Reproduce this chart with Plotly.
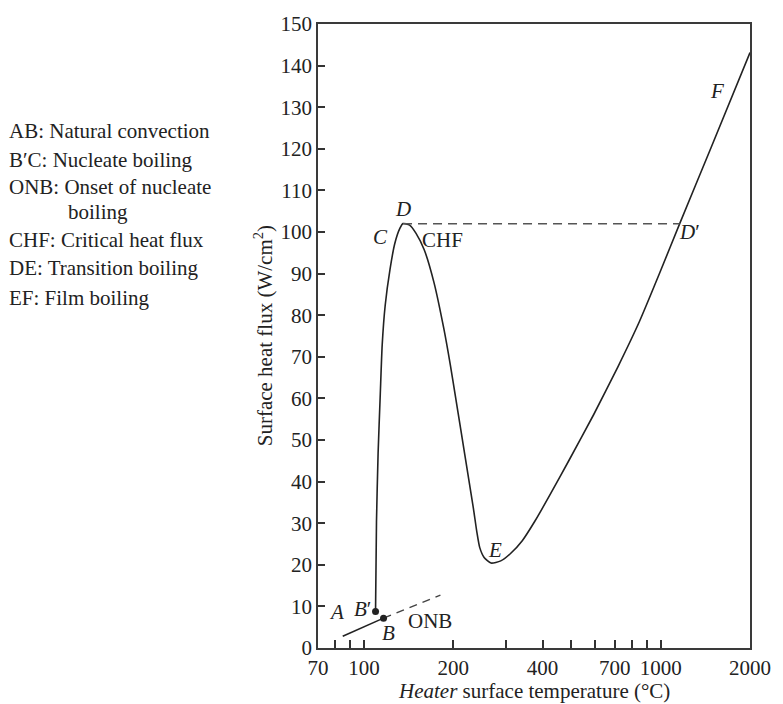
import math
import plotly.graph_objects as go

# ---- data ----
# main boiling curve: B' -> C -> D (CHF) -> E -> D' -> F
curve_T = [109.4, 110.2, 111.6, 113.5, 115.2, 117.9, 122.4, 127.1, 132.1, 135.4,
           142.5, 149.8, 159.6, 172.2, 185.8, 195.4, 202.8, 212.2, 225.6, 233.8,
           240.1, 245.6, 254.1, 268.0, 289.1, 311.9, 341.6, 377.0, 422.4, 491.6,
           594.2, 718.3, 848.7, 995.3, 1158.2, 1476.7, 2000.0]
curve_q = [8.75, 30.28, 46.84, 61.04, 72.86, 82.33, 91.01, 97.30, 100.85, 102.03,
           101.66, 99.67, 95.74, 87.84, 76.81, 68.13, 61.04, 52.29, 40.46, 33.59,
           27.92, 24.13, 21.77, 20.42, 20.94, 22.71, 25.79, 30.52, 36.67, 45.19,
           56.07, 67.66, 78.54, 90.37, 101.96, 120.18, 143.13]

# natural convection A -> B (solid), ONB extension (dashed)
ab_T = [84.8, 116.4]
ab_q = [2.84, 7.18]
onb_T = [116.4, 181.0]
onb_q = [7.18, 12.7]

# CHF horizontal D -> D'
chf_T = [135.4, 1158.2]
chf_q = [102.0, 102.0]

# points B' and B
pts_T = [109.4, 116.4]
pts_q = [8.75, 7.18]

x_tickvals = [70, 80, 90, 100, 200, 300, 400, 500, 600, 700, 800, 900, 1000, 2000]
x_ticktext = ["70", "", "", "100", "200", "", "400", "", "", "700", "", "", "1000", "2000"]
y_tickvals = list(range(0, 151, 10))

# point labels: (text, T, q)
point_labels = [
    ("<i>A</i>", 81.1, 8.6),
    ("<i>B</i>′", 98.7, 9.4),
    ("<i>B</i>", 120.9, 3.6),
    ("ONB", 167.1, 6.6),
    ("<i>C</i>", 113.5, 98.9),
    ("<i>D</i>", 135.4, 105.6),
    ("CHF", 183.4, 98.1),
    ("<i>E</i>", 276.2, 23.6),
    ("<i>D</i>′", 1252.0, 100.1),
    ("<i>F</i>", 1545.0, 134.0),
]

legend_lines = [
    ("AB: Natural convection", 0, 123),
    ("B′C: Nucleate boiling", 0, 152),
    ("ONB: Onset of nucleate", 0, 180),
    ("boiling", 60, 205),
    ("CHF: Critical heat flux", 0, 233),
    ("DE: Transition boiling", 0, 262),
    ("EF: Film boiling", 0, 292),
]

FONT = "Liberation Serif, Times New Roman, serif"
INK = "#222222"
FS = 21

# ---- layout geometry ----
W, H = 783, 704
ML, MR, MT, MB = 318, 23, 14, 56
PW = W - ML - MR
PH = H - MT - MB

fig = go.Figure()

fig.add_trace(go.Scatter(x=curve_T, y=curve_q, mode="lines",
                         line=dict(color=INK, width=1.6, shape="spline", smoothing=0.6),
                         hoverinfo="skip", showlegend=False))
fig.add_trace(go.Scatter(x=ab_T, y=ab_q, mode="lines",
                         line=dict(color=INK, width=1.6),
                         hoverinfo="skip", showlegend=False))
fig.add_trace(go.Scatter(x=onb_T, y=onb_q, mode="lines",
                         line=dict(color="#444444", width=1.5, dash="8px,6px"),
                         hoverinfo="skip", showlegend=False))
fig.add_trace(go.Scatter(x=chf_T, y=chf_q, mode="lines",
                         line=dict(color="#555555", width=1.5, dash="9px,6px"),
                         hoverinfo="skip", showlegend=False))
fig.add_trace(go.Scatter(x=pts_T, y=pts_q, mode="markers",
                         marker=dict(color=INK, size=7),
                         hoverinfo="skip", showlegend=False))

annotations = []
for txt, t, q in point_labels:
    annotations.append(dict(x=math.log10(t), y=q, xref="x", yref="y", text=txt,
                            showarrow=False, xanchor="center", yanchor="middle",
                            font=dict(family=FONT, size=FS, color=INK)))
for txt, px, py in legend_lines:
    annotations.append(dict(x=(px - ML) / PW, y=(H - MB - py) / PH, xref="paper", yref="paper",
                            text=txt, showarrow=False, xanchor="left", yanchor="middle",
                            font=dict(family=FONT, size=FS, color=INK)))
# axis titles
annotations.append(dict(x=(262 - ML) / PW, y=0.5, xref="paper", yref="paper",
                        text="Surface heat flux (W/cm<sup>2</sup>)", textangle=-90,
                        showarrow=False, xanchor="center", yanchor="middle",
                        font=dict(family=FONT, size=FS, color=INK)))
annotations.append(dict(x=0.5, y=(H - MB - 692) / PH, xref="paper", yref="paper",
                        text="<i>Heater</i> surface temperature (°C)",
                        showarrow=False, xanchor="center", yanchor="middle",
                        font=dict(family=FONT, size=FS, color=INK)))

fig.update_layout(
    width=W, height=H,
    margin=dict(l=ML, r=MR, t=MT, b=MB, pad=0),
    paper_bgcolor="white", plot_bgcolor="white",
    font=dict(family=FONT, size=FS, color=INK),
    annotations=annotations,
    xaxis=dict(type="log", range=[math.log10(70), math.log10(2000)],
               tickmode="array", tickvals=x_tickvals, ticktext=x_ticktext,
               ticks="inside", ticklen=8, tickwidth=1.5, tickcolor="#333333",
               showline=True, linecolor="#3a3a3a", linewidth=1.8, mirror=True,
               showgrid=False, zeroline=False,
               tickfont=dict(family=FONT, size=FS, color=INK)),
    yaxis=dict(range=[0, 150], tickmode="array", tickvals=y_tickvals,
               ticks="inside", ticklen=7, tickwidth=1.5, tickcolor="#333333",
               showline=True, linecolor="#3a3a3a", linewidth=1.8, mirror=True,
               showgrid=False, zeroline=False,
               tickfont=dict(family=FONT, size=FS, color=INK)),
)

fig.write_html("out.html")
